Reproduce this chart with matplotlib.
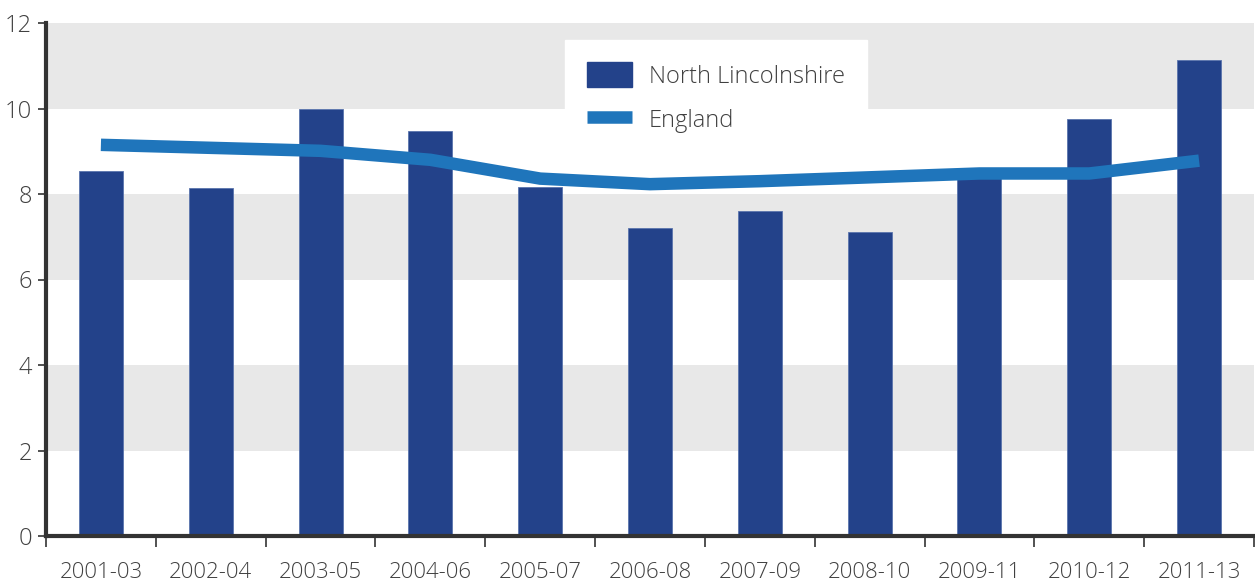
import matplotlib
matplotlib.use('Agg')
import matplotlib.pyplot as plt
import numpy as np
from matplotlib.patches import Patch
from matplotlib.lines import Line2D

periods = ['2001-03', '2002-04', '2003-05', '2004-06', '2005-07', '2006-08',
           '2007-09', '2008-10', '2009-11', '2010-12', '2011-13']
north_lincs = [8.53, 8.15, 10.0, 9.48, 8.16, 7.2, 7.6, 7.11, 8.45, 9.76, 11.13]
england = [9.15, 9.08, 9.01, 8.8, 8.36, 8.23, 8.3, 8.39, 8.48, 8.48, 8.78]
y_ticks = [0, 2, 4, 6, 8, 10, 12]

bar_color = '#23428a'
line_color = '#1f75bb'
text_color = '#404040'
spine_color = '#333333'

plt.rcParams['font.family'] = ['Open Sans', 'DejaVu Sans']
plt.rcParams['font.weight'] = 'light'

W, H = 1255, 586
fig = plt.figure(figsize=(W / 100, H / 100), dpi=100)
ax = fig.add_axes([46 / W, (H - 536) / H, (1254 - 46) / W, (536 - 23) / H])

x = np.arange(len(periods))

# alternating grey bands
for lo in range(2, 12, 4):
    ax.axhspan(lo, lo + 2, color='#e8e8e8', zorder=0, lw=0)

ax.bar(x, north_lincs, width=0.4, color=bar_color, edgecolor='#5a74ad',
       linewidth=0.6, zorder=2)
ax.plot(x, england, color=line_color, linewidth=9, solid_capstyle='butt',
        solid_joinstyle='round', zorder=3)

ax.set_xlim(-0.5, len(periods) - 0.5)
ax.set_ylim(0, 12)

ax.set_yticks(y_ticks)
ax.set_yticklabels([str(v) for v in y_ticks])
ax.set_xticks(x)
ax.set_xticklabels(periods)
ax.set_xticks(np.arange(len(periods) + 1) - 0.5, minor=True)

ax.tick_params(axis='x', which='major', length=0, pad=19, labelsize=16,
               labelcolor=text_color)
ax.tick_params(axis='x', which='minor', length=8, width=1.2, color=spine_color,
               direction='out')
ax.tick_params(axis='y', length=6, width=1.2, color=spine_color, pad=4,
               labelsize=17, labelcolor=text_color)

for side in ['top', 'right']:
    ax.spines[side].set_visible(False)
for side in ['left', 'bottom']:
    ax.spines[side].set_linewidth(3)
    ax.spines[side].set_color(spine_color)

handles = [Patch(facecolor=bar_color, edgecolor=bar_color),
           Line2D([0], [0], color=line_color, linewidth=9, solid_capstyle='butt')]
leg = ax.legend(handles, ['North Lincolnshire', 'England'],
                loc='upper left', bbox_to_anchor=((565 - 46) / 1208, (536 - 40) / 513),
                borderaxespad=0, frameon=True, fancybox=False, framealpha=1,
                edgecolor='white', facecolor='white', fontsize=17,
                handlelength=1.9, handleheight=1.25, handletextpad=0.7,
                borderpad=0.95, labelspacing=0.75)
for t in leg.get_texts():
    t.set_color(text_color)
leg.set_zorder(4)

fig.savefig('out.png', dpi=100)
